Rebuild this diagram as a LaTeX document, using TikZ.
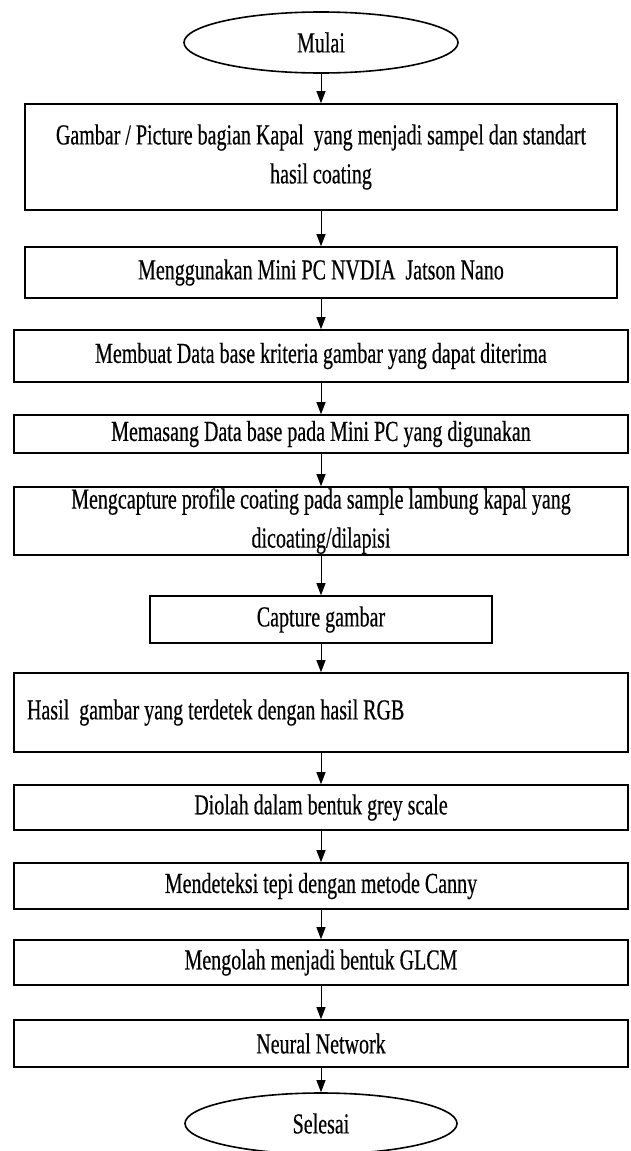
\documentclass[tikz,border=0pt]{standalone}
\usepackage{fontspec}
\setmainfont{Liberation Serif}[FakeStretch=0.69,FakeBold=0.4]
\usetikzlibrary{shapes.geometric,arrows.meta}

\begin{document}
\begin{tikzpicture}[x=1pt,y=1pt,
	proses/.style={draw,line width=1.6pt,rectangle,inner sep=0pt,align=center,font=\fontsize{29}{39}\selectfont},
	terminal/.style={draw,line width=1.6pt,ellipse,minimum width=274pt,minimum height=61pt,inner sep=0pt,font=\fontsize{29}{30}\selectfont},
	panah/.style={-{Triangle[length=12pt,width=9pt]},line width=0.9pt}]

	\useasboundingbox (0,0) rectangle (631,-1151);

	\node[terminal] (mulai) at (321,-42.5) {Mulai};
	\node[proses,minimum width=592pt,minimum height=106pt] (gambar) at (321,-157)
		{Gambar / Picture bagian Kapal\ \ yang menjadi sampel dan standart\\hasil coating};
	\node[proses,minimum width=592pt,minimum height=51pt] (minipc) at (321,-272.5)
		{Menggunakan Mini PC NVDIA\ \ Jatson Nano};
	\node[proses,minimum width=614pt,minimum height=52pt] (database) at (321,-356)
		{Membuat Data base kriteria gambar yang dapat diterima};
	\node[proses,minimum width=614pt,minimum height=38pt] (pasang) at (321,-434)
		{Memasang Data base pada Mini PC yang digunakan};
	\node[proses,minimum width=614pt,minimum height=68pt] (profil) at (321,-521)
		{Mengcapture profile coating pada sample lambung kapal yang\\dicoating/dilapisi};
	\node[proses,minimum width=342pt,minimum height=47pt] (capture) at (321,-619.5)
		{Capture gambar};
	\node[proses,minimum width=614pt,minimum height=79pt] (hasil) at (321,-712.5)
		{\makebox[588pt][l]{Hasil\ \ gambar yang terdetek dengan hasil RGB}};
	\node[proses,minimum width=614pt,minimum height=45pt] (grey) at (321,-807.5)
		{Diolah dalam bentuk grey scale};
	\node[proses,minimum width=614pt,minimum height=46pt] (canny) at (321,-886)
		{Mendeteksi tepi dengan metode Canny};
	\node[proses,minimum width=614pt,minimum height=45pt] (glcm) at (321,-962.5)
		{Mengolah menjadi bentuk GLCM};
	\node[proses,minimum width=614pt,minimum height=47pt] (neural) at (321,-1043.5)
		{Neural Network};
	\node[terminal,minimum width=272pt] (selesai) at (321,-1123.5) {Selesai};

	\foreach \a/\b in {mulai/gambar,gambar/minipc,minipc/database,database/pasang,pasang/profil,
		profil/capture,capture/hasil,hasil/grey,grey/canny,canny/glcm,glcm/neural,neural/selesai}
		\draw[panah] (\a) -- (\b);

\end{tikzpicture}
\end{document}
